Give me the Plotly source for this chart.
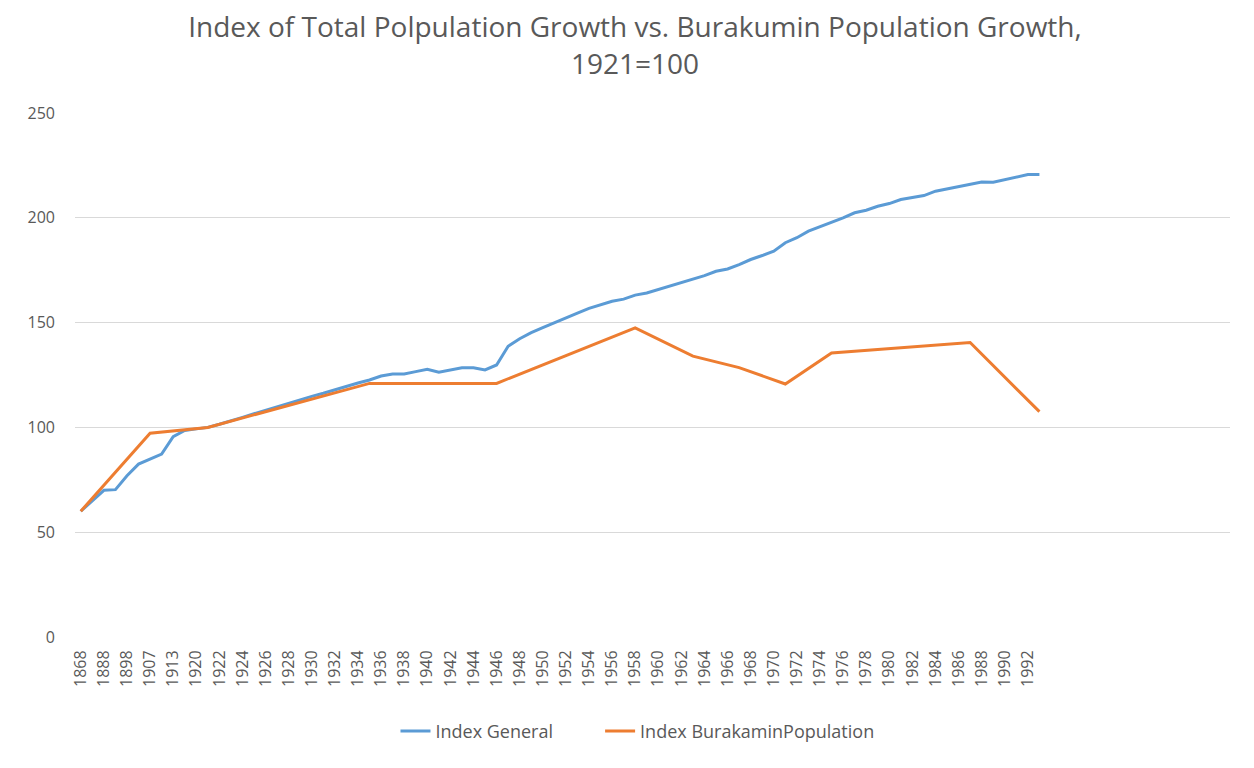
import plotly.graph_objects as go

years = ["1868", "1878", "1888", "1893", "1898", "1903", "1907", "1908", "1913", "1918", "1920"] + \
        [str(y) for y in range(1921, 1994)]

general = [60, 65, 70, 70.3, 76.9, 82.5, 84.8, 87.3, 95.6, 98.5, 99.3,
           100, 101.5, 103, 104.8, 106.5, 108.2, 110, 111.5, 113.2, 114.8,
           116.3, 118, 119.8, 121.2, 122.6, 124.5, 125.5, 125.5, 126.6, 127.7,
           126.3, 127.4, 128.5, 128.5, 127.4, 129.8, 138.7, 142.3, 145.2, 147.6,
           150, 152.1, 154.5, 156.8, 158.5, 160.2, 161.2, 163.1, 164.1, 165.7,
           167.6, 169.2, 170.8, 172.4, 174.5, 175.6, 177.7, 180.1, 182, 184.1,
           188.1, 190.5, 193.6, 195.7, 198.1, 200, 202.4, 203.6, 205.5, 206.8,
           208.7, 209.5, 210.6, 212.7, 213.8, 215, 216.3, 217.1, 217, 218.2,
           219.3, 220.6, 220.6]

buraku_years = ["1868", "1907", "1921", "1935", "1946", "1958", "1963", "1967",
                "1971", "1975", "1987", "1993"]
buraku_vals = [60, 97.2, 100, 121, 121, 147.5, 134, 128.5, 120.7, 135.5, 140.5, 107.5]

tick_labels = years[0:83:2]

series_names = ["Index General", "Index BurakaminPopulation"]

title_text = "Index of Total Polpulation Growth vs. Burakumin Population Growth,<br>1921=100"
font_main = "Open Sans, Roboto, sans-serif"
grey = "#595959"
pad = "\u00a0" * 9

fig = go.Figure()
fig.add_trace(go.Scatter(x=years, y=general, mode="lines", name=series_names[0] + pad,
                         line=dict(color="#5B9BD5", width=3)))
fig.add_trace(go.Scatter(x=buraku_years, y=buraku_vals, mode="lines",
                         name=series_names[1],
                         line=dict(color="#ED7D31", width=3)))

fig.update_layout(
    width=1254, height=768,
    paper_bgcolor="white", plot_bgcolor="white",
    margin=dict(l=67, r=32, t=105, b=139),
    title=dict(text=title_text, x=0.5, xanchor="center", y=0.962, yanchor="top",
               font=dict(family=font_main, size=28, color=grey)),
    font=dict(family=font_main, color=grey, size=13),
    legend=dict(orientation="h", x=0.487, xanchor="center",
                y=-0.18, yanchor="middle",
                font=dict(family=font_main, size=18, color=grey)),
    showlegend=True,
)
fig.update_xaxes(type="category", categoryorder="array", categoryarray=years,
                 range=[-0.5, 99.5], tickmode="array", tickvals=tick_labels,
                 ticktext=tick_labels, tickangle=-90, showgrid=False,
                 ticks="outside", ticklen=6, tickcolor="rgba(0,0,0,0)",
                 showline=False, zeroline=False,
                 tickfont=dict(family=font_main, size=16, color=grey))
fig.update_yaxes(range=[0, 250], dtick=50, showgrid=True, gridcolor="#d9d9d9",
                 gridwidth=1, zeroline=False, showline=False, ticks="",
                 ticklabelstandoff=19,
                 tickfont=dict(family=font_main, size=16, color=grey))

fig.write_html("out.html")
